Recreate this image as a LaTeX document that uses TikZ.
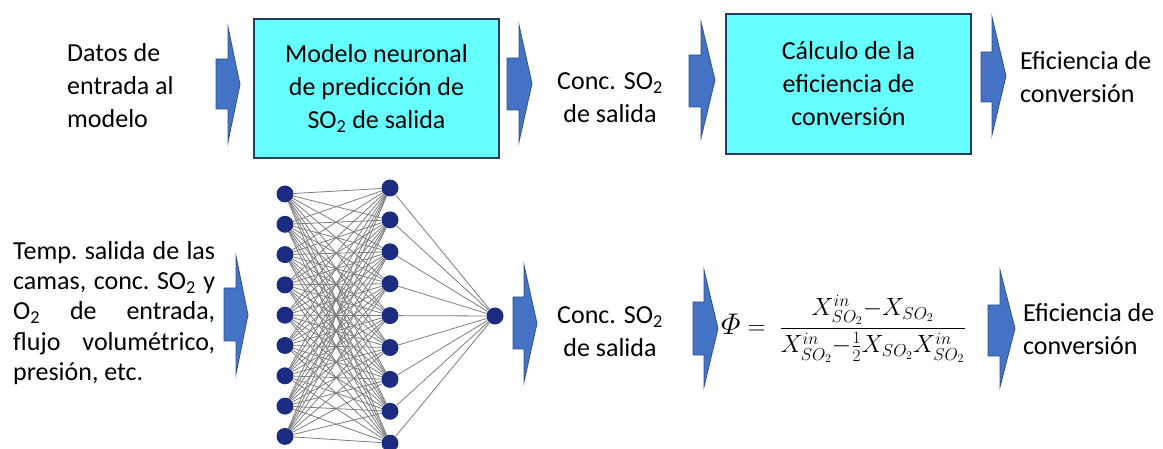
\documentclass[tikz,border=0pt]{standalone}
\usepackage{amsmath}
\usepackage{fontspec}
\setmainfont{Carlito}
\definecolor{boxfill}{RGB}{102,255,255}
\definecolor{boxline}{RGB}{38,58,100}
\definecolor{arrfill}{RGB}{68,114,196}
\definecolor{arrline}{RGB}{47,82,143}
\definecolor{neuron}{RGB}{28,44,128}
\definecolor{synapse}{RGB}{125,125,125}
\newcommand{\blockarrow}[7]{%
  \draw[barrow] (#1,#5) -- (#2,#5) -- (#2,#4) -- (#3,{(#4+#7)/2}) -- (#2,#7) -- (#2,#6) -- (#1,#6) -- cycle;}
\newcommand{\jline}[1]{\hbox to 202pt{#1}}
\begin{document}
\begin{tikzpicture}[x=1pt,y=-1pt,
  every node/.style={font=\fontsize{26}{33}\selectfont, inner sep=0pt},
  procbox/.style={draw=boxline, fill=boxfill, line width=2.5pt, align=center},
  barrow/.style={draw=arrline, fill=arrfill, line width=0.8pt, line join=miter},
  plaintext/.style={align=left},
  neu/.style={circle, fill=neuron, minimum size=17pt},
  syn/.style={draw=synapse, line width=0.8pt}]
\useasboundingbox (0,0) rectangle (1163,449);

% ---------- top row ----------
\node[plaintext, anchor=west] (tin) at (67,86) {Datos de\\entrada al\\modelo};
\blockarrow{216}{228}{240}{27}{59}{109}{142}
\node[procbox, minimum width=245pt, minimum height=139pt] (model) at (376.5,88.5)
  {Modelo neuronal\\de predicción de\\SO\textsubscript{2} de salida};
\blockarrow{507}{519}{532}{25}{58}{110}{142}
\node[align=center] (tconc) at (610,98) {Conc. SO\textsubscript{2}\\de salida};
\blockarrow{689}{701}{715}{22}{55}{107}{138}
\node[procbox, minimum width=245pt, minimum height=140pt] (calc) at (848.5,84)
  {Cálculo de la\\eficiencia de\\conversión};
\blockarrow{981}{992}{1006}{17}{52}{102}{135}
\node[plaintext, anchor=west] (teff) at (1020,77) {Eficiencia de\\conversión};

% ---------- bottom row ----------
\node[plaintext, anchor=west, font=\fontsize{26}{30.3}\selectfont] (bin) at (13,313)
  {\jline{Temp.\hfill salida\hfill de\hfill las}\\
   \jline{camas,\hfill conc.\hfill SO\textsubscript{2}\hfill y}\\
   \jline{O\textsubscript{2}\hfill de\hfill entrada,}\\
   \jline{flujo\hfill volumétrico,}\\
   \jline{presión, etc.\hfill}};
\blockarrow{224}{236}{248}{256}{288}{341}{374}

% neural network
\foreach \k in {1,...,9} {
  \node[neu] (i\k) at (285,{194+30.3*(\k-1)}) {};
  \node[neu] (h\k) at (390,{188+31.9*(\k-1)}) {};
}
\node[neu] (o) at (495,316) {};
\foreach \a in {1,...,9} {
  \foreach \b in {1,...,9} {
    \draw[syn] (i\a) -- (h\b);
  }
  \draw[syn] (h\a) -- (o);
}

\blockarrow{513}{524}{537}{265}{297}{349}{382}
\node[align=center] (bconc) at (610,332) {Conc. SO\textsubscript{2}\\de salida};
\blockarrow{693}{704}{718}{270}{302}{355}{387}
\node[anchor=west, font=\fontsize{26}{30}\selectfont] (formula) at (721,329)
  {$\displaystyle \scalebox{1.2}{$\varPhi$}=\;\frac{X^{in}_{SO_2}{-}X_{SO_2}}{X^{in}_{SO_2}{-}\tfrac{1}{2}X_{SO_2}X^{in}_{SO_2}}$};
\blockarrow{988}{1000}{1015}{270}{305}{356}{387}
\node[plaintext, anchor=west] (beff) at (1023,329) {Eficiencia de\\conversión};
\end{tikzpicture}
\end{document}
